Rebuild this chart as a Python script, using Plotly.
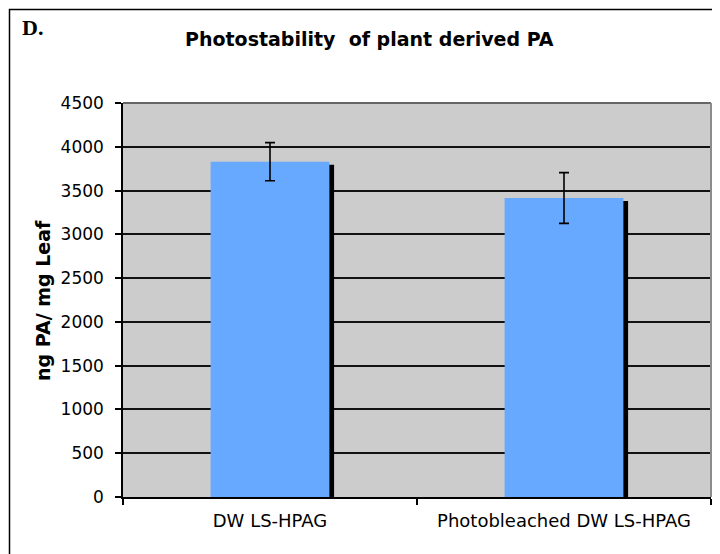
import plotly.graph_objects as go

categories = ["DW LS-HPAG", "Photobleached DW LS-HPAG"]
values = [3830, 3415]
errors = [218, 290]
y_ticks = [0, 500, 1000, 1500, 2000, 2500, 3000, 3500, 4000, 4500]

# page body has an 8px margin; figure is sized/placed to compensate
OFF = 8
W, H = 720 - OFF, 554 - OFF
L, T = 123 - OFF, 103 - OFF
R = W - (711 - OFF)
B = H - (497 - OFF)
pw, ph = W - L - R, H - T - B

def px_x(x):
    return (x - OFF - L) / pw

def px_y(y):
    return 1 + (T - (y - OFF)) / ph

bar_w = 0.404
shadow_dx = 4.7 / (pw / 2)
shadow_dy = 3 * 4500 / ph

fig = go.Figure()
fig.add_trace(go.Bar(
    x=categories, y=[v - shadow_dy for v in values],
    width=bar_w, offset=-bar_w / 2 + shadow_dx,
    marker=dict(color="#000000", line=dict(width=0)),
    hoverinfo="skip", showlegend=False,
))
fig.add_trace(go.Bar(
    x=categories, y=values,
    width=bar_w, offset=-bar_w / 2,
    marker=dict(color="#66A9FF", line=dict(width=0)),
    error_y=dict(type="data", array=errors, visible=True, color="#000000", thickness=1.6, width=5),
    showlegend=False,
))

fig.update_layout(
    width=W, height=H,
    margin=dict(l=L, r=R, t=T, b=B),
    paper_bgcolor="white", plot_bgcolor="#CCCCCC",
    barmode="overlay",
    font=dict(family="DejaVu Sans", color="black"),
    xaxis=dict(
        type="category", range=[-0.5, 1.5],
        showgrid=False, zeroline=False,
        showline=True, linecolor="black", linewidth=1.5,
        ticks="outside", tickson="boundaries", ticklen=6, tickcolor="black", tickwidth=1.5,
        tickfont=dict(size=18, family="DejaVu Sans"),
        ticklabelstandoff=7,
    ),
    yaxis=dict(
        range=[0, 4500], tickvals=y_ticks, ticktext=[str(t) for t in y_ticks],
        showgrid=True, gridcolor="#111111", gridwidth=1.5,
        zeroline=False,
        showline=True, linecolor="black", linewidth=1.5,
        ticks="outside", ticklen=6, tickcolor="black", tickwidth=1.5,
        tickfont=dict(size=17, family="DejaVu Sans"),
        ticklabelstandoff=8,
    ),
    shapes=[
        dict(type="line", xref="paper", yref="paper", x0=0, x1=1, y0=1, y1=1,
             line=dict(color="#666666", width=2), layer="above"),
        dict(type="line", xref="paper", yref="paper", x0=1, x1=1, y0=0, y1=1,
             line=dict(color="#8C8C8C", width=2), layer="above"),
        dict(type="rect", xref="paper", yref="paper",
             x0=px_x(9.5), x1=px_x(760), y0=px_y(600), y1=px_y(9.5),
             line=dict(color="black", width=1.5), fillcolor="rgba(0,0,0,0)", layer="below"),
    ],
    annotations=[
        dict(text="<b>Photostability  of plant derived PA</b>", xref="paper", yref="paper",
             x=px_x(183), y=px_y(39), xanchor="left", yanchor="middle", showarrow=False,
             font=dict(size=19, family="DejaVu Sans", color="black")),
        dict(text="<b>D.</b>", xref="paper", yref="paper",
             x=px_x(20), y=px_y(28), xanchor="left", yanchor="middle", showarrow=False,
             font=dict(size=22, family="Liberation Serif", color="black")),
        dict(text="<b>ng PA/ mg Leaf</b>", xref="paper", yref="paper",
             x=px_x(43), y=0.5, xanchor="center", yanchor="middle", textangle=-90, showarrow=False,
             font=dict(size=19, family="DejaVu Sans", color="black")),
    ],
)

fig.write_html("out.html")
